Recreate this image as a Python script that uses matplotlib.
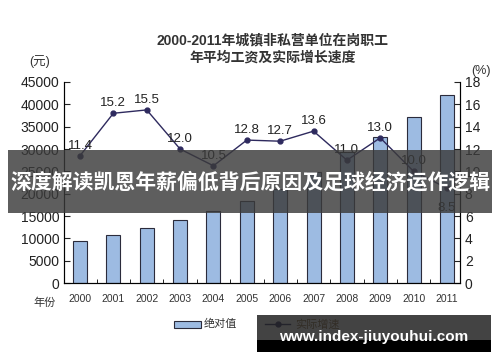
import matplotlib
matplotlib.use('Agg')
import matplotlib.pyplot as plt
from matplotlib.patches import Rectangle
from matplotlib.lines import Line2D

plt.rcParams['font.family'] = ['Liberation Sans', 'Noto Sans CJK SC', 'DejaVu Sans']

years = ['2000', '2001', '2002', '2003', '2004', '2005',
         '2006', '2007', '2008', '2009', '2010', '2011']
wages = [9371, 10870, 12422, 14040, 16024, 18364,
         21001, 24932, 29229, 32736, 37147, 42000]
growth = [11.4, 15.2, 15.5, 12.0, 10.5, 12.8, 12.7, 13.6, 11.0, 13.0, 10.0, 8.5]
growth_labels = ['11.4', '15.2', '15.5', '12.0', '10.5', '12.8',
                 '12.7', '13.6', '11.0', '13.0', '10.0', '8.5']

fig = plt.figure(figsize=(5, 3.62), dpi=100)
ax = fig.add_axes([0.128, 0.218, 0.792, 0.5555])
x = list(range(len(years)))

ax.bar(x, wages, width=0.42, color='#9dbbe2', edgecolor='#2b2b3b', linewidth=0.8, zorder=2)
ax.set_xlim(-0.48, 11.39)
ax.set_ylim(0, 45000)
ax.set_yticks(range(0, 45001, 5000))
ax.set_xticks(x)
ax.set_xticklabels(years, fontsize=7.5, color='#333333')
ax.tick_params(axis='y', direction='in', labelsize=10, length=4, colors='#222222')
ax.tick_params(axis='x', length=0, pad=8)
ax.set_xticks([i + 0.5 for i in x[:-1]], minor=True)
ax.tick_params(axis='x', which='minor', direction='in', length=3)
ax.spines['top'].set_visible(False)
for s in ['left', 'bottom', 'right']:
    ax.spines[s].set_color('#333333')

ax2 = ax.twinx()
ax2.plot(x, growth, color='#2e2a5e', linewidth=1.0, marker='o', markersize=3.5, zorder=3)
for i, (v, lab) in enumerate(zip(growth, growth_labels)):
    dy = -1.8 if i == 11 else 0.9
    ax2.text(i, v + dy, lab, ha='center', va='center', fontsize=9.5, color='#222222')
ax2.set_ylim(0, 18)
ax2.set_yticks(range(0, 19, 2))
ax2.tick_params(axis='y', direction='in', labelsize=10, length=4, colors='#222222')
ax2.spines['top'].set_visible(False)

fig.text(0.545, 0.888, '2000-2011年城镇非私营单位在岗职工', ha='center', va='center',
         fontsize=10, fontweight='bold', color='#333333')
fig.text(0.545, 0.84, '年平均工资及实际增长速度', ha='center', va='center',
         fontsize=10, fontweight='bold', color='#333333')
fig.text(0.08, 0.83, '(元)', ha='center', va='center', fontsize=9, color='#333333')
fig.text(0.962, 0.805, '(%)', ha='center', va='center', fontsize=9, color='#333333')
fig.text(0.09, 0.163, '年份', ha='center', va='center', fontsize=8, color='#333333')

# legend
fig.patches.append(Rectangle((0.348, 0.095), 0.054, 0.017, transform=fig.transFigure,
                             facecolor='#9dbbe2', edgecolor='#2b2b3b', linewidth=0.8))
fig.text(0.408, 0.104, '绝对值', ha='left', va='center', fontsize=8, color='#333333')
fig.lines.append(Line2D([0.53, 0.58], [0.104, 0.104], transform=fig.transFigure,
                        color='#2e2a5e', linewidth=1.0))
fig.lines.append(Line2D([0.555], [0.104], transform=fig.transFigure,
                        color='#2e2a5e', marker='o', markersize=3.5))
fig.text(0.59, 0.104, '实际增速', ha='left', va='center', fontsize=8, color='#8a6a3a')

# overlay banner
fig.patches.append(Rectangle((0.016, 0.412), 0.968, 0.174, transform=fig.transFigure,
                             facecolor='#3a3a3a', alpha=0.82, zorder=10))
fig.text(0.5, 0.497, '深度解读凯恩年薪偏低背后原因及足球经济运作逻辑', ha='center', va='center',
         fontsize=15, fontweight='bold', color='white', zorder=11)

# bottom watermark box
fig.patches.append(Rectangle((0.514, 0.06), 0.468, 0.07, transform=fig.transFigure,
                             facecolor='#222222', alpha=0.85, zorder=10))
fig.patches.append(Rectangle((0.514, 0.027), 0.468, 0.035, transform=fig.transFigure,
                             facecolor='black', zorder=10))
fig.text(0.748, 0.07, 'www.index-jiuyouhui.com', ha='center', va='center',
         fontsize=11, fontweight='bold', color='white', zorder=11)

fig.savefig('out.png', dpi=100)
